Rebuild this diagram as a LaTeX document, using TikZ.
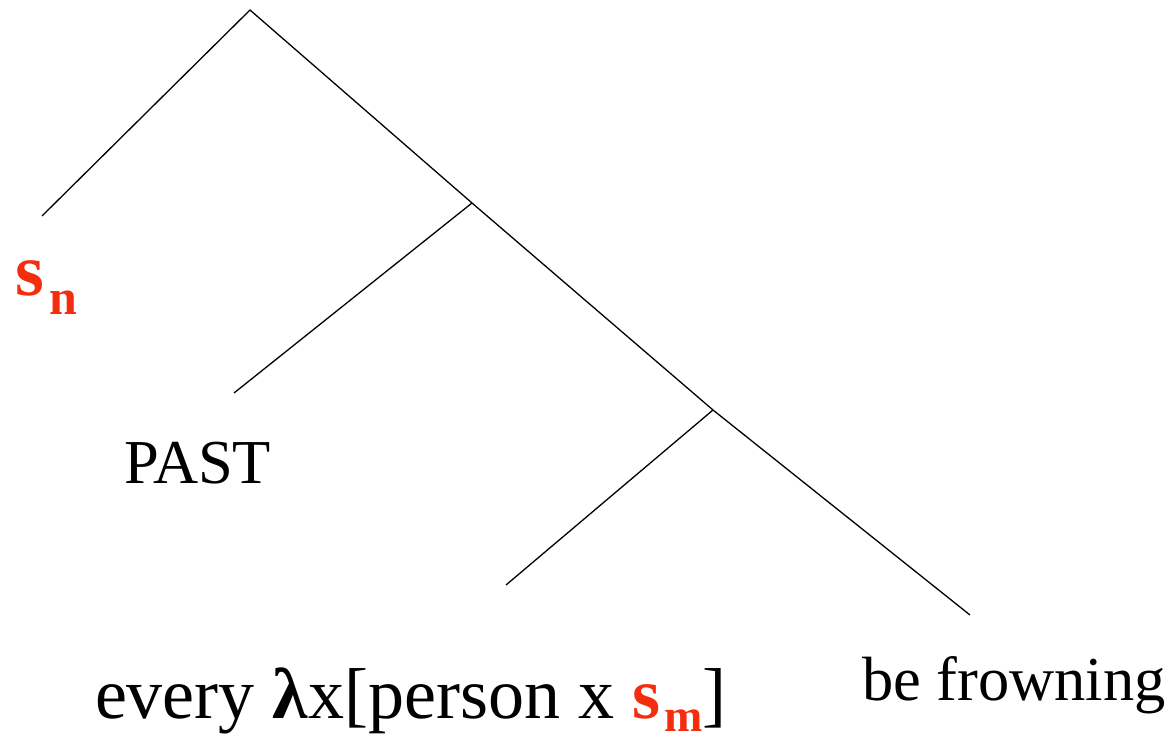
\documentclass[tikz,border=0pt]{standalone}
\usepackage{fontspec}
\setmainfont{Liberation Serif}
\definecolor{myred}{RGB}{245,45,15}
\begin{document}
\begin{tikzpicture}[x=1pt,y=-1pt,
  branch/.style={line width=1.3pt,black},
  lab/.style={anchor=base west,inner sep=0pt,outer sep=0pt}]
\useasboundingbox (0,0) rectangle (1172,743);
\coordinate (top) at (250,10);
\coordinate (n1) at (472,203);
\coordinate (n2) at (713,410);
\coordinate (l1) at (42,216);
\coordinate (l2) at (234,393);
\coordinate (l3) at (506,585);
\coordinate (l4) at (970,615);
\draw[branch] (l1) -- (top) -- (n1) -- (n2) -- (l4);
\draw[branch] (n1) -- (l2);
\draw[branch] (n2) -- (l3);
\node[lab,text=myred] (sn) at (16,295) {\fontsize{74}{80}\selectfont\textbf{s}\kern5pt\raisebox{-19pt}{\fontsize{50}{56}\selectfont\textbf{n}}};
\node[lab] (past) at (124,483) {\fontsize{62.5}{70}\selectfont PAST};
\node[lab] (bf) at (862,700) {\fontsize{62.5}{70}\selectfont be frowning};
\node[lab] (ev) at (95,718) {\fontsize{72}{78}\selectfont every \textbf{λ}x[person x \textcolor{myred}{\textbf{s}\kern4pt\raisebox{-13pt}{\fontsize{46}{50}\selectfont\textbf{m}}}]};
\end{tikzpicture}
\end{document}
